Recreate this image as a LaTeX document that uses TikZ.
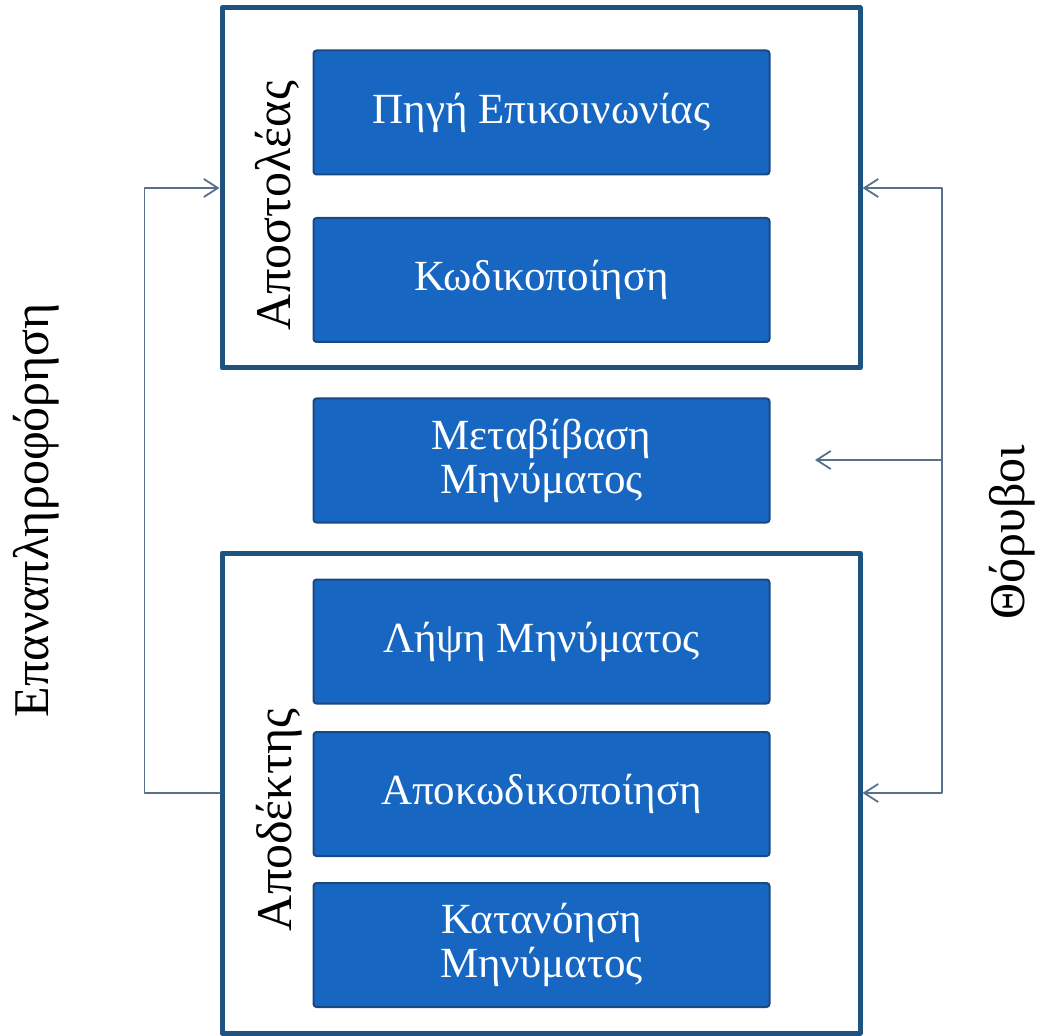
\documentclass[tikz,border=0pt]{standalone}
\usepackage{fontspec}
\setmainfont{Liberation Serif}
\usepackage{tikz}
\usetikzlibrary{arrows.meta}
\definecolor{boxblue}{RGB}{22,102,194}
\definecolor{edgeblue}{RGB}{26,72,128}
\definecolor{frameblue}{RGB}{30,82,128}
\definecolor{linkgray}{RGB}{88,112,140}

\begin{document}
\begin{tikzpicture}[x=0.5pt,y=-0.5pt,line cap=round,line join=round,
  stage/.style={draw=edgeblue,fill=boxblue,line width=1pt,rounded corners=1.5pt,
    minimum width=228pt,minimum height=62pt,align=center,text=white,
    font=\fontsize{21.5}{22}\selectfont},
  frame/.style={draw=frameblue,line width=2.5pt,minimum width=319pt},
  side/.style={rotate=90,font=\fontsize{25}{27}\selectfont},
  link/.style={draw=linkgray,line width=0.9pt,-{Straight Barb[length=7pt,width=9pt]}}]
\useasboundingbox (0,0) rectangle (1047,1036);
% outer frames
\node[frame,minimum height=180pt] (sender) at (541,188) {};
\node[frame,minimum height=240pt] (receiver) at (541,793) {};
% stages
\node[stage] (source) at (541.5,112.5) {Πηγή Επικοινωνίας};
\node[stage] (encode) at (541.5,280) {Κωδικοποίηση};
\node[stage] (transmit) at (541.5,460.5) {Μεταβίβαση\\Μηνύματος};
\node[stage] (receive) at (541.5,641.5) {Λήψη Μηνύματος};
\node[stage] (decode) at (541.5,794) {Αποκωδικοποίηση};
\node[stage] (understand) at (541.5,945) {Κατανόηση\\Μηνύματος};
% side labels
\node[side] (senderlbl) at (277,206) {Αποστολέας};
\node[side] (receiverlbl) at (279,820) {Αποδέκτης};
\node[side] (feedback) at (36,510) {Επαναπληροφόρηση};
\node[side] (noiselbl) at (1012,532) {Θόρυβοι};
% connectors
\draw[link] (receiver.west) -- ++(-75,0) |- (sender.west);
\coordinate (noise) at (942,460);
\coordinate (noisetip) at (815,460);
\draw[link] (noise) |- (sender.east);
\draw[link] (noise) |- (receiver.east);
\draw[link] (noise) -- (noisetip);
\end{tikzpicture}
\end{document}
